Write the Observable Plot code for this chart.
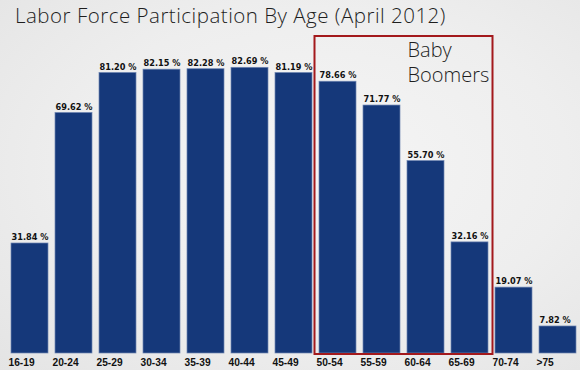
<!DOCTYPE html>
<html>
<head>
<meta charset="utf-8">
<script src="https://cdn.jsdelivr.net/npm/d3@7"></script>
<script src="https://cdn.jsdelivr.net/npm/@observablehq/plot@0.6"></script>
<style>
  html, body { margin: 0; padding: 0; }
  body {
    width: 580px; height: 370px; overflow: hidden; position: relative;
    background: radial-gradient(ellipse at 55% 45%, #f5f5f5 0%, #eeeeee 55%, #e4e4e4 100%);
  }
  #title {
    position: absolute; left: 15px; top: 5px;
    font-family: "Open Sans", "Noto Sans", sans-serif; font-weight: 300;
    font-size: 20.5px; letter-spacing: 0.5px; line-height: 1; color: #1e1e1e; white-space: nowrap;
  }
  #chart { position: absolute; left: 0; top: 30px; }
  #chart svg { background: transparent; overflow: visible; }
</style>
</head>
<body>
<div id="title">Labor Force Participation By Age (April 2012)</div>
<div id="chart"></div>
<script>
const ages = ["16-19","20-24","25-29","30-34","35-39","40-44","45-49","50-54","55-59","60-64","65-69","70-74",">75"];
const values = [31.84, 69.62, 81.20, 82.15, 82.28, 82.69, 81.19, 78.66, 71.77, 55.70, 32.16, 19.07, 7.82];
const boomerGroups = ["50-54", "65-69"];
const boomerLabel = ["Baby", "Boomers"];

const data = ages.map((a, i) => ({age: a, value: values[i]}));

const W = 580, H = 340;
const mL = 10, mR = 4, mT = 6, mB = 17;
const padInner = 0.16;
const step = (W - mL - mR) / (ages.length - padInner);
const bw = step * (1 - padInner);

const plot = Plot.plot({
  width: W,
  height: H,
  marginLeft: mL,
  marginRight: mR,
  marginTop: mT,
  marginBottom: mB,
  style: {background: "transparent", overflow: "visible"},
  x: {domain: ages, paddingInner: padInner, paddingOuter: 0, axis: null},
  y: {domain: [0, 91.75], axis: null},
  marks: [
    Plot.barY(data, {x: "age", y: "value", fill: "#15387a", stroke: "#6f86b3", strokeWidth: 0.7}),
    Plot.text(data, {
      x: "age", y: "value", text: d => d.value.toFixed(2) + " %",
      textAnchor: "start", dx: -bw / 2, dy: -6,
      fontFamily: "DejaVu Sans, Verdana, sans-serif", fontWeight: "bold", fontSize: 8.2, fill: "#111"
    }),
    Plot.text(data, {
      x: "age", y: 0, text: "age",
      textAnchor: "start", dx: -bw / 2 - 3, dy: 9,
      fontFamily: "Liberation Sans, Arial, sans-serif", fontWeight: "bold", fontSize: 10.2, fill: "#111"
    })
  ]
});

document.getElementById("chart").appendChild(plot);

// Baby Boomers box, positioned through the plot's own scales
const sx = plot.scale("x");
const sy = plot.scale("y");
const x0 = sx.apply(boomerGroups[0]) - 4.5;
const x1 = sx.apply(boomerGroups[1]) + sx.bandwidth + 4.5;
const yTop = sy.apply(sy.domain[1]);
const yBot = sy.apply(0) + 1;
const svg = d3.select(plot);
svg.append("rect")
  .attr("x", x0).attr("y", yTop)
  .attr("width", x1 - x0).attr("height", yBot - yTop)
  .attr("fill", "none").attr("stroke", "#a3191c").attr("stroke-width", 2);
const lbl = svg.append("text")
  .attr("text-anchor", "start")
  .attr("font-family", "Open Sans, Noto Sans, sans-serif")
  .attr("font-weight", 300).attr("font-size", 20).attr("fill", "#1e1e1e");
boomerLabel.forEach((t, i) => {
  lbl.append("tspan").attr("x", x0 + 93).attr("y", yTop + 21 + i * 25).text(t);
});
</script>
</body>
</html>
